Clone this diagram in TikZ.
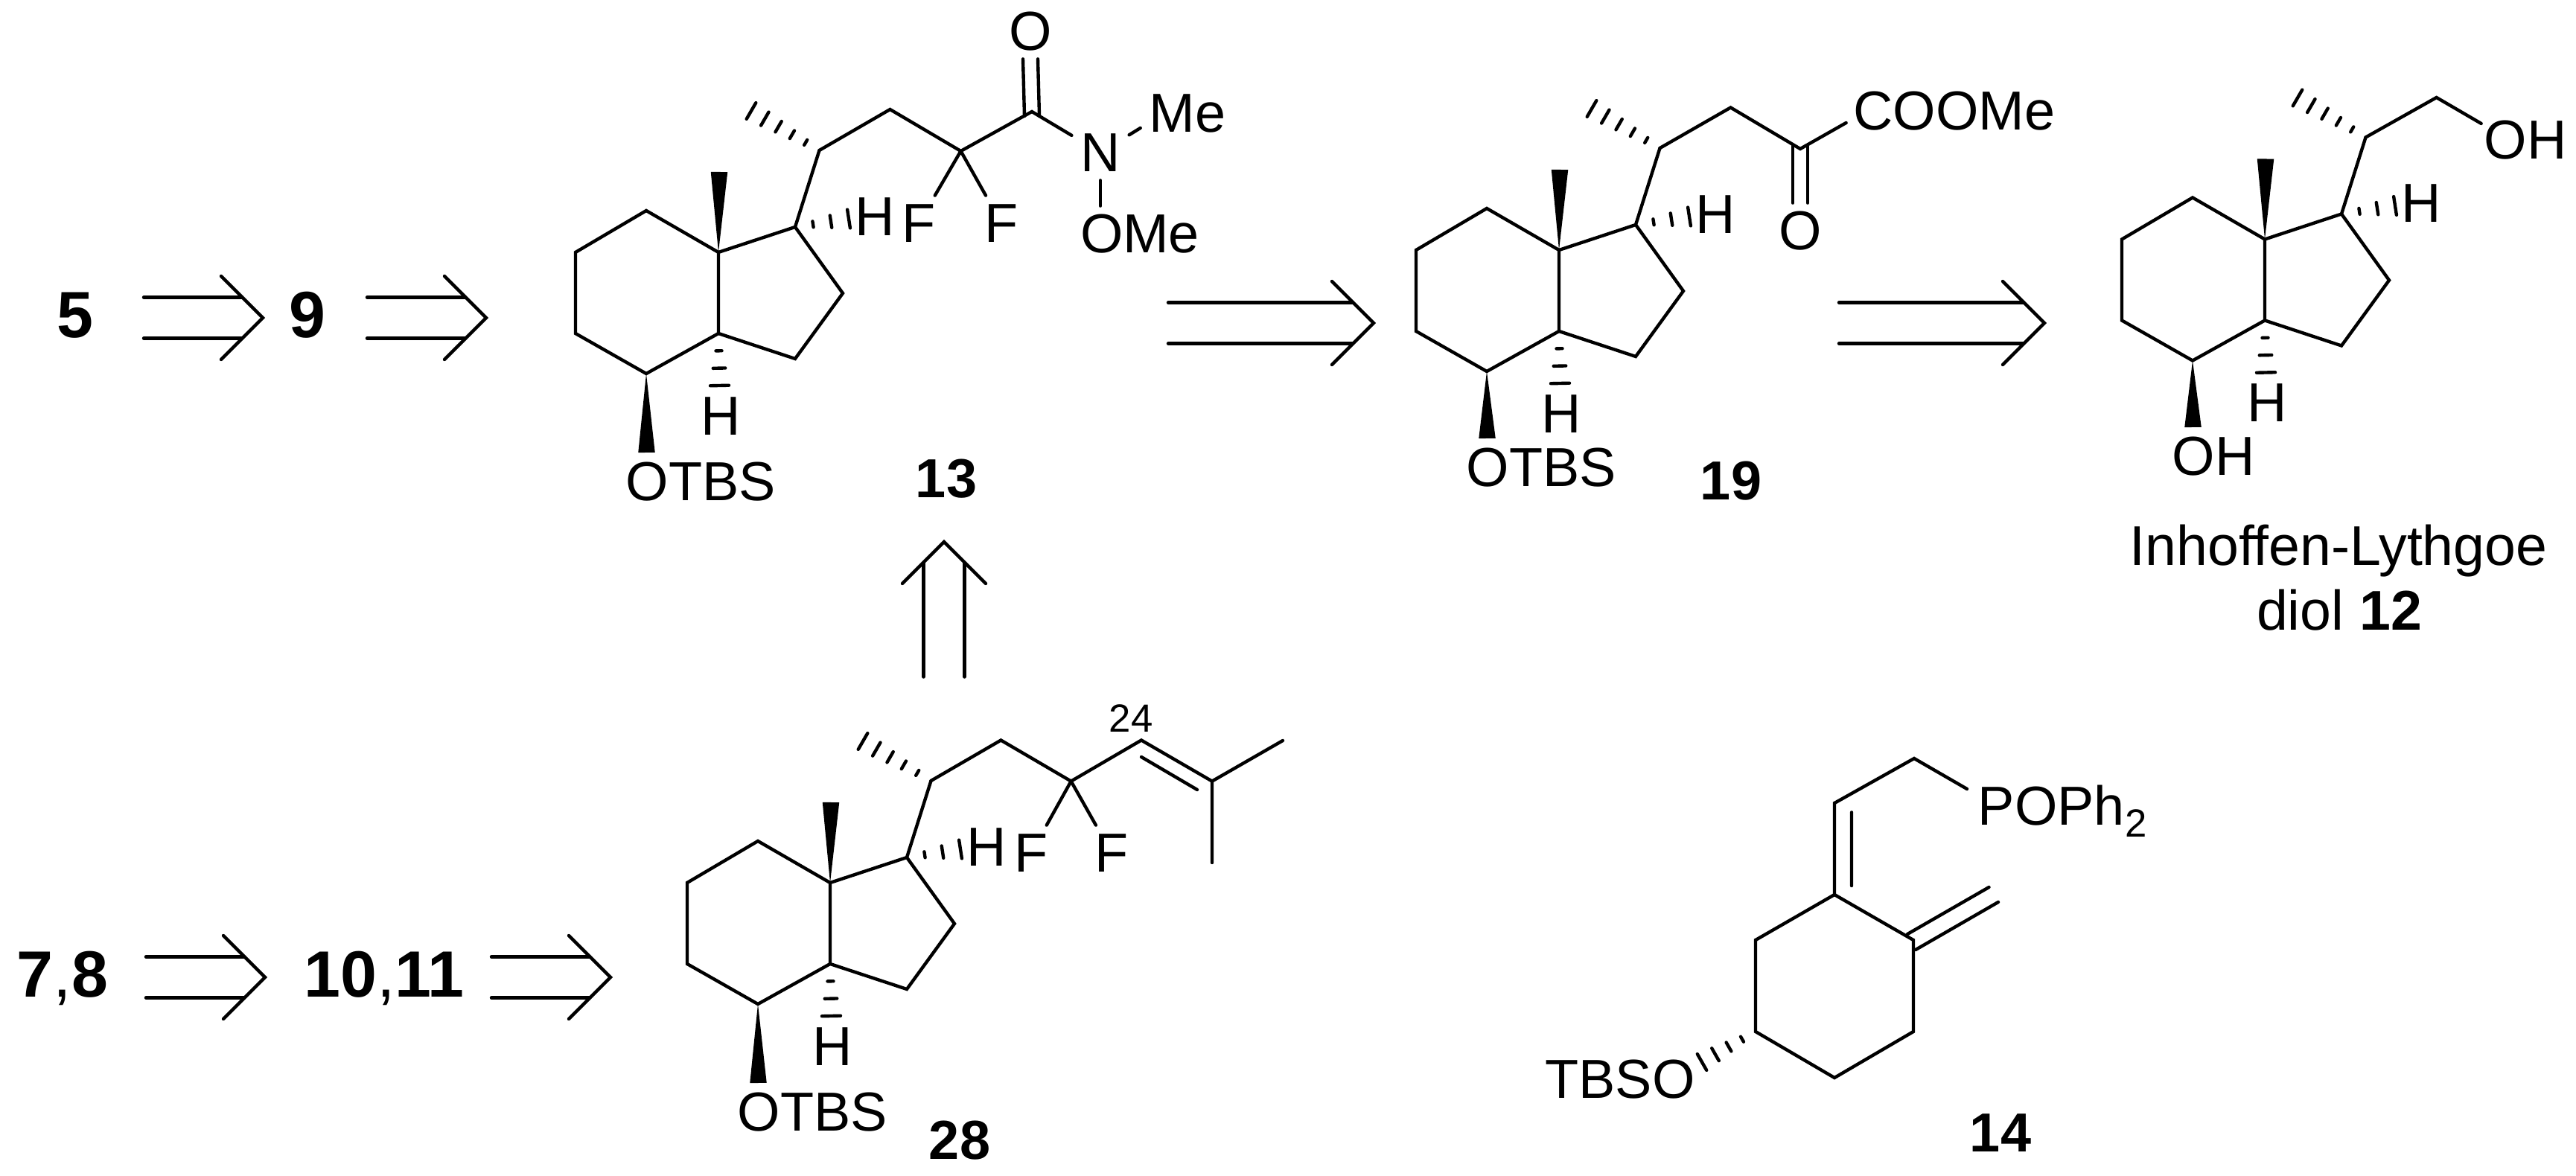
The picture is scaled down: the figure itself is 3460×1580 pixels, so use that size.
\documentclass[tikz,border=0pt]{standalone}
\usepackage{fontspec}
\setmainfont{Liberation Sans}
\usetikzlibrary{calc}
\tikzset{
	bond/.style={line width=1.25pt,line cap=round},
	atom/.style={font=\fontsize{21}{25}\selectfont,inner sep=0pt,outer sep=3.4pt,text height=14.45pt,text depth=0pt},
	cmpd/.style={atom,font=\fontsize{21}{25}\selectfont\bfseries},
	small/.style={atom,font=\fontsize{15}{18}\selectfont,text height=10.3pt},
	bigcmpd/.style={font=\fontsize{25}{29}\selectfont,inner sep=0pt,anchor=base},
	caption/.style={font=\fontsize{21.4}{25}\selectfont,inner sep=0pt,anchor=base}
}
\newcommand{\hashbond}[3]{
	\foreach \hnum in {1,...,#3}{
		\pgfmathsetmacro\hw{(4+8.5*(\hnum-1)/(#3-1))*0.2845}
		\pgfmathsetmacro\tp{\hnum/#3}
		\draw[bond] ($(#1)!\tp!(#2)!\hw pt!90:(#1)$)--($(#1)!\tp!(#2)!\hw pt!-90:(#1)$);
	}
}
\newcommand{\wedgebond}[2]{
	\fill ($(#1)$)--($(#2)!3.2pt!90:(#1)$)--($(#2)!3.2pt!-90:(#1)$)--cycle;
}
\newcommand{\retro}[3]{
	\begin{scope}[shift={(#1)},rotate=#3]
		\draw[bond] (-56,-56)--(0,0)--(-56,56);
		\draw[bond] (-#2,-27.5)--(-28,-27.5) (-#2,27.5)--(-28,27.5);
	\end{scope}
}
\newcommand{\hydrindane}[4]{
	\begin{scope}[shift={#2}]
		\coordinate (#1A) at (773,339);
		\coordinate (#1B) at (868,283);
		\coordinate (#1C) at (965,339);
		\coordinate (#1D) at (965,448);
		\coordinate (#1E) at (868,502);
		\coordinate (#1F) at (773,448);
		\coordinate (#1G) at (1068,305);
		\coordinate (#1K) at (1132,394);
		\coordinate (#1L) at (1068,482);
		\coordinate (#1Z) at (1100.5,202);
		\coordinate (#1Y) at (1009,149);
		\coordinate (#1M) at (966,231);
		\coordinate (#1P) at (868.5,#3);
		\coordinate (#1Q) at (1140,294);
		\coordinate (#1R) at (966.5,518);
		\node[atom] (#1Ha) at (1175,291) {H};
		\node[atom] (#1Hb) at (968,559) {H};
		\node[atom,anchor=west] (#1O) at (829,#3+39) {#4};
		\draw[bond] (#1A)--(#1B)--(#1C)--(#1D)--(#1E)--(#1F)--cycle;
		\draw[bond] (#1C)--(#1G)--(#1K)--(#1L)--(#1D);
		\draw[bond] (#1G)--(#1Z);
		\wedgebond{#1C}{#1M}
		\wedgebond{#1E}{#1P}
		\hashbond{#1Z}{#1Y}{5}
		\hashbond{#1G}{#1Q}{3}
		\hashbond{#1D}{#1R}{3}
	\end{scope}
}
\begin{document}
\begin{tikzpicture}[x=0.01cm,y=-0.01cm]
	\useasboundingbox (0,0) rectangle (3460,1580);
	\hydrindane{m}{(0,0)}{608}{OTBS}
	\hydrindane{k}{(1129,-3)}{592}{OTBS}
	\hydrindane{d}{(150,847)}{608}{OTBS}
	\hydrindane{i}{(2077,-17.5)}{591.5}{OH}

	\coordinate (ma) at (1195.5,147);
	\coordinate (mb) at (1290.5,203);
	\coordinate (mc) at (1386,150);
	\node[atom] (mO2) at (1384,42) {O};
	\node[atom] (mN) at (1478,205) {N};
	\node[atom] (mMe) at (1595,152) {Me};
	\node[atom] (mOMe) at (1531,314) {OMe};
	\node[atom] (mFa) at (1234,300) {F};
	\node[atom] (mFb) at (1345,300) {F};
	\node[cmpd] (mname) at (1271,643) {13};
	\draw[bond] (mZ)--(ma)--(mb)--(mc)--(mN);
	\draw[bond] (mb)--(mFa) (mb)--(mFb);
	\draw[bond] ($(mO2.south)+(-10,0)$)--($(mc)+(-10,6)$) ($(mO2.south)+(10,0)$)--($(mc)+(10,6)$);
	\draw[bond] (mN)--($(mMe.west)+(0,20)$);
	\draw[bond] (mN)--(mN|-mOMe.north);

	\coordinate (ka) at (2324.5,144.5);
	\coordinate (kb) at (2418,200);
	\node[atom] (kO2) at (2418,310) {O};
	\node[atom] (kCO) at (2625,149) {COOMe};
	\node[cmpd] (kname) at (2325,646) {19};
	\draw[bond] (kZ)--(ka)--(kb)--($(kCO.west)+(2,16)$);
	\draw[bond] ($(kb)+(-10,-5)$)--($(kO2.north)+(-10,0)$) ($(kb)+(10,-5)$)--($(kO2.north)+(10,0)$);

	\coordinate (ia) at (3272.6,131);
	\node[atom] (iOH) at (3392,188) {OH};
	\draw[bond] (iZ)--(ia)--($(iOH.west)+(8,-22)$);
	\node[caption] (iname) at (3141,760) {Inhoffen-Lythgoe};
	\node[caption] (inum) at (3142,847) {diol \textbf{12}};

	\coordinate (da) at (1344.4,994.5);
	\coordinate (db) at (1438.6,1049.6);
	\coordinate (dc) at (1533,994.5);
	\coordinate (de) at (1628,1049.6);
	\coordinate (df) at (1723,995);
	\coordinate (dg) at (1628,1159);
	\coordinate (dh) at (1533,1017);
	\coordinate (dj) at (1608,1061);
	\node[atom] (dFa) at (1385,1146) {F};
	\node[atom] (dFb) at (1493,1146) {F};
	\node[small] (dnum) at (1519,965) {24};
	\node[cmpd] (dname) at (1289,1532) {28};
	\draw[bond] (dZ)--(da)--(db)--(dc)--(de)--(df) (de)--(dg) (dh)--(dj);
	\draw[bond] (db)--(dFa) (db)--(dFb);

	\coordinate (tA) at (2464,1202);
	\coordinate (tB) at (2570,1263);
	\coordinate (tC) at (2570,1386);
	\coordinate (tD) at (2464,1448);
	\coordinate (tE) at (2358,1386);
	\coordinate (tF) at (2358,1263);
	\coordinate (tG) at (2464,1079);
	\coordinate (tK) at (2571,1019);
	\coordinate (tL) at (2487,1091.4);
	\coordinate (tM) at (2487,1190);
	\coordinate (tP) at (2562,1255);
	\coordinate (tQ) at (2671.5,1192);
	\coordinate (tR) at (2573,1276);
	\coordinate (tS) at (2684,1212);
	\coordinate (tU) at (2286,1427);
	\node[atom,anchor=west] (tP2) at (2645,1083) {POPh\raisebox{-4.6pt}{\fontsize{15}{18}\selectfont 2}};
	\node[atom] (tO) at (2176,1450) {TBSO};
	\node[cmpd] (tname) at (2687,1522) {14};
	\draw[bond] (tA)--(tB)--(tC)--(tD)--(tE)--(tF)--cycle;
	\draw[bond] (tA)--(tG)--(tK)--($(tP2.west)+(-3,-23)$);
	\draw[bond] (tL)--(tM) (tP)--(tQ) (tR)--(tS);
	\hashbond{tE}{tU}{4}

	\node[bigcmpd] (n5) at (101,454) {\textbf{5}};
	\node[bigcmpd] (n9) at (413,454) {\textbf{9}};
	\node[bigcmpd] (n78) at (84,1340) {\textbf{7},\textbf{8}};
	\node[bigcmpd] (n1011) at (516,1340) {\textbf{10},\textbf{11}};

	\coordinate (ra) at (353,427);
	\coordinate (rb) at (653,427);
	\coordinate (rc) at (1845,434);
	\coordinate (rd) at (2746,434);
	\coordinate (re) at (1268,728);
	\coordinate (rf) at (356,1313);
	\coordinate (rg) at (820,1313);
	\retro{ra}{160}{0}
	\retro{rb}{160}{0}
	\retro{rc}{276}{0}
	\retro{rd}{276}{0}
	\retro{re}{181.5}{90}
	\retro{rf}{160}{0}
	\retro{rg}{160}{0}
\end{tikzpicture}
\end{document}
